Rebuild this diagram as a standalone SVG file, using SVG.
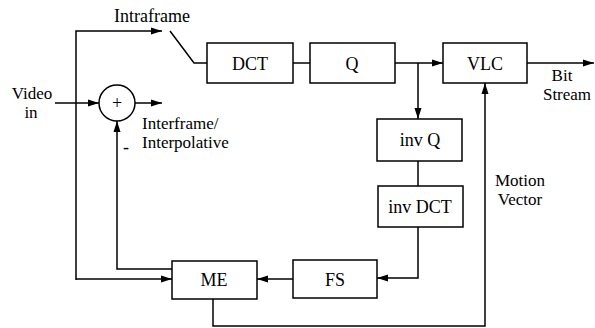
<svg xmlns="http://www.w3.org/2000/svg" width="595" height="328" viewBox="0 0 595 328">
<defs>
<marker id="ah" markerWidth="11" markerHeight="8" refX="11" refY="4" orient="auto" markerUnits="userSpaceOnUse">
<path d="M0,0.5 L11,4 L0,7.5 Z" fill="#000"/>
</marker>
<style>
.box{fill:#fff;stroke:#000;stroke-width:1.5}
.ln{fill:none;stroke:#000;stroke-width:1.5}
.t{font-family:"Liberation Serif","Times New Roman",serif;font-size:18px;fill:#000}
.s{font-size:17px}
.m{text-anchor:middle}
</style>
</defs>
<rect width="595" height="328" fill="#fff"/>
<g id="connectors">
<path class="ln" d="M76,280 L76,31 L162,31" marker-end="url(#ah)"/>
<path class="ln" d="M170,31 L194,63 L207,63"/>
<path class="ln" d="M55,103 L99,103" marker-end="url(#ah)"/>
<path class="ln" d="M135,103 L162,103" marker-end="url(#ah)"/>
<path class="ln" d="M76,279 L172,279" marker-end="url(#ah)"/>
<path class="ln" d="M172,269 L117,269 L117,121" marker-end="url(#ah)"/>
<path class="ln" d="M293,63 L310,63"/>
<path class="ln" d="M395,63 L443,63" marker-end="url(#ah)"/>
<path class="ln" d="M418,63 L418,119" marker-end="url(#ah)"/>
<path class="ln" d="M527,63 L594,63" marker-end="url(#ah)"/>
<path class="ln" d="M418,161 L418,186"/>
<path class="ln" d="M418,227 L418,278 L377,278" marker-end="url(#ah)"/>
<path class="ln" d="M293,279 L257,279" marker-end="url(#ah)"/>
<path class="ln" d="M213,299 L213,326 L485,326 L485,83" marker-end="url(#ah)"/>
</g>
<g id="sum">
<circle cx="117" cy="103" r="18" class="box"/>
<text class="t m" x="117" y="109">+</text>
</g>
<g id="dct"><rect class="box" x="207" y="43" width="86" height="40"/><text class="t m" x="250" y="70">DCT</text></g>
<g id="q"><rect class="box" x="310" y="43" width="85" height="40"/><text class="t m" x="352" y="70">Q</text></g>
<g id="vlc"><rect class="box" x="443" y="43" width="84" height="40"/><text class="t m" x="485" y="70">VLC</text></g>
<g id="invq"><rect class="box" x="377" y="119" width="85" height="42"/><text class="t m" x="420" y="146">inv Q</text></g>
<g id="invdct"><rect class="box" x="378" y="186" width="85" height="41"/><text class="t m" x="420" y="213">inv DCT</text></g>
<g id="fs"><rect class="box" x="293" y="260" width="84" height="38"/><text class="t m" x="335" y="286">FS</text></g>
<g id="me"><rect class="box" x="172" y="261" width="85" height="38"/><text class="t m" x="214" y="286">ME</text></g>
<g id="labels">
<text class="t m" x="152" y="22">Intraframe</text>
<text class="t s m" x="32" y="99">Video</text>
<text class="t s m" x="31" y="118">in</text>
<text class="t s" x="142" y="129">Interframe/</text>
<text class="t s" x="142" y="148">Interpolative</text>
<text class="t" x="123" y="153">-</text>
<text class="t s m" x="562" y="81">Bit</text>
<text class="t s m" x="567" y="100">Stream</text>
<text class="t s m" x="520" y="186">Motion</text>
<text class="t s m" x="520" y="205">Vector</text>
</g>
</svg>
